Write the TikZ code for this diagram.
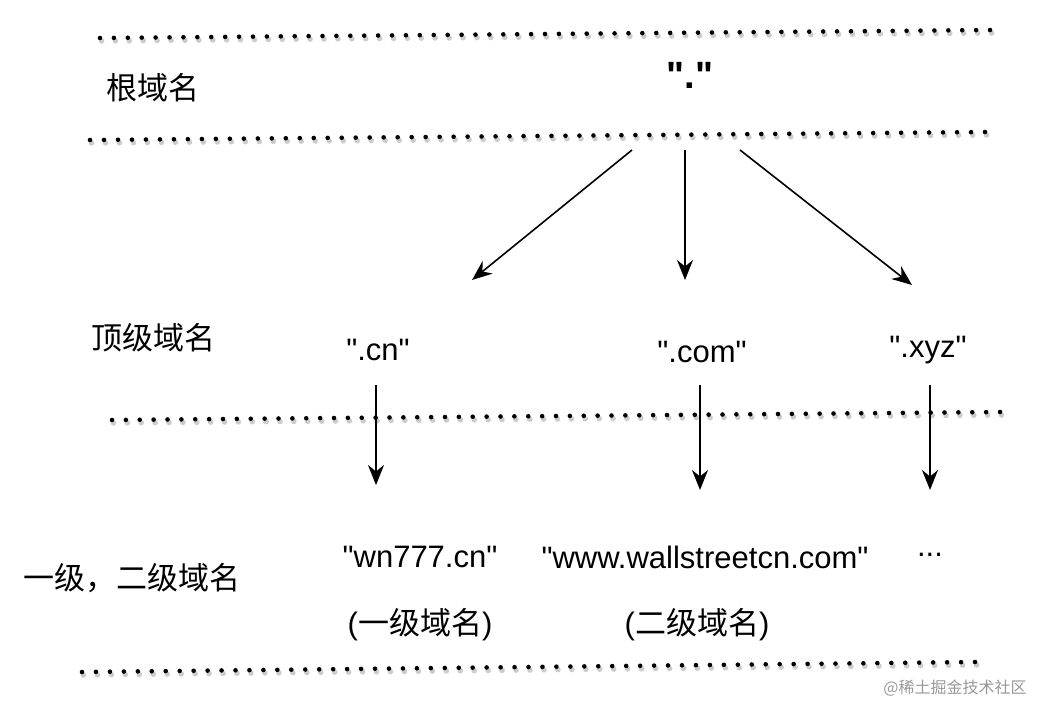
\documentclass[tikz,border=0pt]{standalone}
\usepackage{fontspec}
\newfontfamily\lf{Liberation Sans}
\newfontfamily\cjk{Noto Sans CJK SC}
\usetikzlibrary{arrows.meta}
\tikzset{
 lbl/.style={font=\lf\fontsize{31}{34}\selectfont},
 cn/.style={font=\cjk\fontsize{31}{34}\selectfont},
 arr/.style={-{Stealth[length=20pt,width=16pt]},line width=1.6pt},
}
\begin{document}
\begin{tikzpicture}[x=1pt,y=-1pt]
\useasboundingbox (0,0) rectangle (1040,704);
\fill[white] (0,0) rectangle (1040,704);
\foreach \a/\b/\c/\d/\n in {100/990/38/30/64, 90/985/140/132/64, 112/1000/420/412/64, 82/975/672/662/64}{
 \foreach \i in {0,...,\n}{
   \pgfmathsetmacro\tt{\i/\n}
   \pgfmathsetmacro\xx{\a+\tt*(\b-\a)}
   \pgfmathsetmacro\yy{\c+\tt*(\d-\c)}
   \fill[black!20] (\xx+1.5,\yy+3) circle (2.8);
   \fill[black] (\xx,\yy) circle (2.3);
 }}
\node[cn] (root) at (153,88) {根域名};
\node[font=\lf\fontsize{38}{40}\selectfont\bfseries] (dot) at (690,75) {"."};
\node[cn] (top) at (153,338) {顶级域名};
\node[lbl] (tcn) at (378,350) {".cn"};
\node[lbl] (tcom) at (702,352) {".com"};
\node[lbl] (txyz) at (928,350) {".xyz"};
\node[cn] (sec) at (132,578) {一级，二级域名};
\node[lbl] (wn) at (420,557) {"wn777.cn"};
\node[lbl] (www) at (705,557) {"www.wallstreetcn.com"};
\node[lbl] (ell) at (930,555) {...};
\node[lbl] (l1) at (420,625) {(\cjk 一级域名\lf)};
\node[lbl] (l2) at (697,625) {(\cjk 二级域名\lf)};
\node[font=\cjk\fontsize{16}{18}\selectfont,text=black!40] (wm) at (955,688) {@稀土掘金技术社区};
\coordinate (r1) at (632,150); \coordinate (e1) at (472,280);
\coordinate (r2) at (685,150); \coordinate (e2) at (685,280);
\coordinate (r3) at (740,150); \coordinate (e3) at (912,285);
\coordinate (c1) at (376,385); \coordinate (d1) at (376,485);
\coordinate (c2) at (700,385); \coordinate (d2) at (700,490);
\coordinate (c3) at (930,385); \coordinate (d3) at (930,490);
\draw[arr] (r1) -- (e1);
\draw[arr] (r2) -- (e2);
\draw[arr] (r3) -- (e3);
\draw[arr] (c1) -- (d1);
\draw[arr] (c2) -- (d2);
\draw[arr] (c3) -- (d3);
\end{tikzpicture}
\end{document}
